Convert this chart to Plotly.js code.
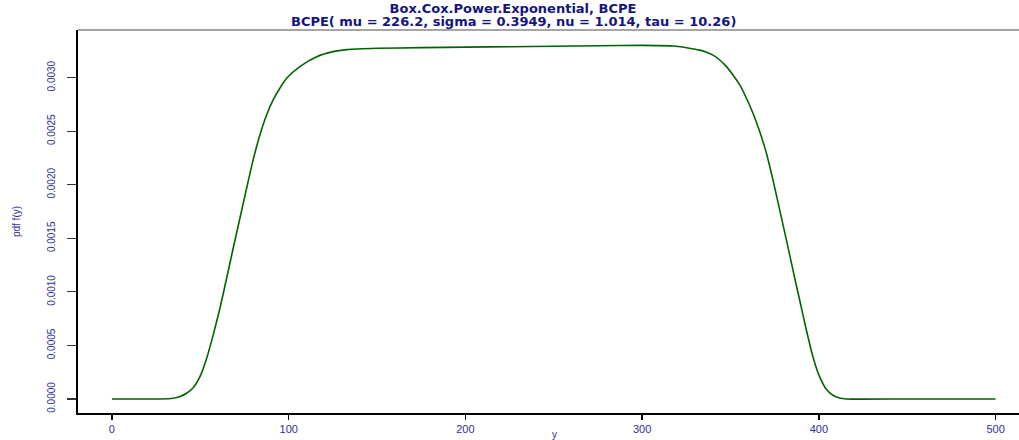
<!DOCTYPE html>
<html>
<head>
<meta charset="utf-8">
<script src="https://cdn.plot.ly/plotly-3.0.1.min.js"></script>
<style>
html,body{margin:0;padding:0;overflow:hidden;background:#fff;}
#chart{width:1050px;height:440px;}
</style>
</head>
<body>
<div id="chart"></div>
<script>
// Values (BCPE pdf curve)
const xValues = [0, 27.1, 34.7, 38.5, 42.2, 46.0, 49.8, 53.6, 57.3, 61.1, 64.9, 68.6, 72.4, 76.2, 79.9, 83.7, 87.5, 91.2, 95.0, 98.8, 106.3, 115.8, 125, 132.8, 150, 175, 200, 225, 250, 275, 300, 317.3, 325.1, 332.6, 336.4, 340.1, 343.9, 347.7, 351.4, 355.2, 359.0, 362.7, 366.5, 370.3, 374.0, 377.8, 381.6, 385.3, 389.1, 392.9, 396.6, 400.4, 404.2, 407.9, 411.7, 415.5, 450, 500];
const pdfValues = [0, 0, 0.0000065, 0.000022, 0.000053, 0.000105, 0.000208, 0.000380, 0.000598, 0.000847, 0.001127, 0.001407, 0.001687, 0.001967, 0.002232, 0.002465, 0.002652, 0.002792, 0.002901, 0.002994, 0.003103, 0.003196, 0.003243, 0.003262, 0.003274, 0.003280, 0.003285, 0.003289, 0.003293, 0.003298, 0.003301, 0.003296, 0.003280, 0.003257, 0.003238, 0.003210, 0.003165, 0.003103, 0.003025, 0.002932, 0.002808, 0.002668, 0.002497, 0.002295, 0.002046, 0.001765, 0.001485, 0.001205, 0.000924, 0.000644, 0.000395, 0.000208, 0.000090, 0.000035, 0.000009, 0, 0, 0];
const xTickVals = [0, 100, 200, 300, 400, 500];
const yTickVals = [0, 0.0005, 0.0010, 0.0015, 0.0020, 0.0025, 0.0030];
const titleLine1 = "Box.Cox.Power.Exponential, BCPE";
const titleLine2 = "BCPE( mu = 226.2, sigma = 0.3949, nu = 1.014, tau = 10.26)";
const yTitle = "pdf f(y)";
const xTitle = "y";

const tickColor = "#2e2e9e";
const titleColor = "#14147f";
const titleFont = "DejaVu Sans, Liberation Sans, Arial, sans-serif";

const trace = {
  x: xValues,
  y: pdfValues,
  type: "scatter",
  mode: "lines",
  line: {color: "#006400", width: 1.6, shape: "spline", smoothing: 0.6},
  hoverinfo: "skip"
};

const layout = {
  width: 1050,
  height: 440,
  margin: {l: 78, r: 19, t: 30, b: 27, pad: 0},
  paper_bgcolor: "#ffffff",
  plot_bgcolor: "#ffffff",
  showlegend: false,
  font: {family: "Liberation Sans, Arial, sans-serif", color: tickColor},
  title: {
    text: "<b>" + titleLine1 + "</b>",
    font: {family: titleFont, size: 13, color: titleColor},
    x: 513 / 1050, xref: "container", xanchor: "center",
    y: 1 - 8 / 440, yref: "container", yanchor: "middle"
  },
  annotations: [{
    text: "<b>" + titleLine2 + "</b>",
    font: {family: titleFont, size: 13, color: titleColor},
    xref: "paper", yref: "paper",
    x: (513 - 78) / (1031 - 78), y: 1 + (30 - 22) / 383,
    xanchor: "center", yanchor: "middle", showarrow: false
  }, {
    text: xTitle,
    font: {family: "Liberation Sans, Arial, sans-serif", size: 10, color: tickColor},
    xref: "paper", yref: "paper",
    x: 0.5, y: 0, yshift: -14,
    xanchor: "center", yanchor: "top", showarrow: false
  }],
  xaxis: {
    range: [-19.2, 520],
    tickvals: xTickVals,
    ticktext: xTickVals.map(String),
    ticks: "outside", ticklen: 5, tickwidth: 1.5, tickcolor: "#000",
    showline: true, linecolor: "#000", linewidth: 2,
    showgrid: false, zeroline: false,
    tickfont: {size: 11, color: tickColor, family: "Liberation Sans, Arial, sans-serif"}
  },
  yaxis: {
    range: [-0.000131, 0.003445],
    tickvals: yTickVals,
    tickformat: ".4f",
    tickangle: -90,
    ticks: "outside", ticklen: 9, tickwidth: 1.2, tickcolor: "#333",
    ticklabelstandoff: 8,
    showline: true, linecolor: "#000", linewidth: 2,
    showgrid: false, zeroline: false,
    tickfont: {size: 10, color: tickColor, family: "Liberation Sans, Arial, sans-serif"},
    title: {text: yTitle, font: {size: 10, color: tickColor, family: "Liberation Sans, Arial, sans-serif"}, standoff: 24}
  },
  shapes: [{
    type: "line", xref: "paper", yref: "paper",
    x0: 0, x1: 1, y0: 1, y1: 1,
    line: {color: "#888888", width: 1.5}
  }]
};

Plotly.newPlot("chart", [trace], layout, {displayModeBar: false, staticPlot: true});
</script>
</body>
</html>
